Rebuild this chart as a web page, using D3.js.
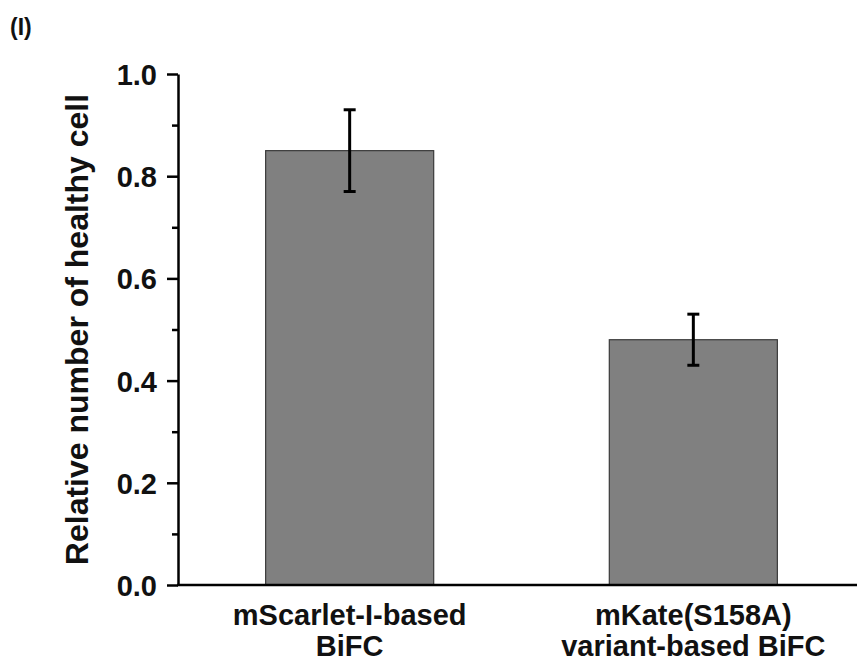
<!DOCTYPE html>
<head>
    <meta charset="utf-8">
    <script src="https://d3js.org/d3.v7.min.js"></script>
    <style>
        body { margin:0; background: white; }
        text { font-family: 'Liberation Sans', Arial, sans-serif; font-weight: bold; fill: #111; }
        .bar { fill: #808080; stroke: #3a3a3a; stroke-width: 1.2; }
        .err { stroke: black; stroke-width: 3; fill: none; }
        .axis path, .axis line { stroke: black; stroke-width: 2.5; }
        .axis text { font-size: 29px; }
        .cat-label { font-size: 29px; }
        .y-title { font-size: 32px; }
        .panel { font-size: 23px; }
    </style>
</head>
<body>
  <script>
    // chart values
    const categories = ['mScarlet-I-based\nBiFC', 'mKate(S158A)\nvariant-based BiFC'];
    const means = [0.85, 0.48];
    const errLow = [0.77, 0.43];
    const errHigh = [0.93, 0.53];
    const yTicks = [0, 0.2, 0.4, 0.6, 0.8, 1.0];
    const yMinorTicks = [0.1, 0.3, 0.5, 0.7, 0.9];

    const width = 857;
    const height = 661;
    const margins = {top: 74, left: 178, bottom: 76};
    const plotBottom = height - margins.bottom;

    const svg = d3.select('body').append('svg')
        .attr('width', width)
        .attr('height', height);

    const data = categories.map((c, i) => ({
        name: c, mean: means[i], lo: errLow[i], hi: errHigh[i]
    }));

    const xScale = d3.scaleBand()
        .domain(categories)
        .range([margins.left, 865])
        .paddingInner(0.511)
        .paddingOuter(0.255);

    const yScale = d3.scaleLinear()
        .domain([0, 1])
        .range([plotBottom, margins.top]);

    // bars
    svg.append('g').selectAll('rect')
        .data(data)
        .enter().append('rect')
        .attr('class', 'bar')
        .attr('x', d => xScale(d.name))
        .attr('width', xScale.bandwidth())
        .attr('y', d => yScale(d.mean))
        .attr('height', d => yScale(0) - yScale(d.mean));

    // error bars
    const cap = 6;
    const errs = svg.append('g').selectAll('g')
        .data(data)
        .enter().append('g');

    errs.append('line')
        .attr('class', 'err')
        .attr('x1', d => xScale(d.name) + xScale.bandwidth() / 2)
        .attr('x2', d => xScale(d.name) + xScale.bandwidth() / 2)
        .attr('y1', d => yScale(d.lo))
        .attr('y2', d => yScale(d.hi));

    ['lo', 'hi'].forEach(k => {
        errs.append('line')
            .attr('class', 'err')
            .attr('x1', d => xScale(d.name) + xScale.bandwidth() / 2 - cap)
            .attr('x2', d => xScale(d.name) + xScale.bandwidth() / 2 + cap)
            .attr('y1', d => yScale(d[k]))
            .attr('y2', d => yScale(d[k]));
    });

    // y axis, major and minor ticks
    svg.append('g')
        .attr('class', 'axis y')
        .attr('transform', `translate(${margins.left},0)`)
        .call(d3.axisLeft(yScale).tickValues(yMinorTicks).tickSize(6).tickFormat(''))
        .call(g => g.select('.domain').remove());

    const yAxis = svg.append('g')
        .attr('class', 'axis y')
        .attr('transform', `translate(${margins.left},0)`)
        .call(d3.axisLeft(yScale).tickValues(yTicks).tickSize(11).tickSizeOuter(0).tickPadding(10)
            .tickFormat(d3.format('.1f')));
    yAxis.selectAll('text').attr('dy', '0.36em');

    // x axis line
    svg.append('line')
        .attr('class', 'axis-x')
        .attr('x1', margins.left - 1)
        .attr('x2', width)
        .attr('y1', yScale(0))
        .attr('y2', yScale(0))
        .attr('stroke', 'black')
        .attr('stroke-width', 2.5);

    // category labels
    const labels = svg.append('g').selectAll('text')
        .data(data)
        .enter().append('text')
        .attr('class', 'cat-label')
        .attr('text-anchor', 'middle')
        .attr('x', d => xScale(d.name) + xScale.bandwidth() / 2)
        .attr('y', 625);

    labels.selectAll('tspan')
        .data(d => d.name.split('\n'))
        .enter().append('tspan')
        .attr('x', function() { return this.parentNode.getAttribute('x'); })
        .attr('dy', (d, i) => i === 0 ? 0 : 31)
        .text(d => d);

    // y axis title
    svg.append('text')
        .attr('class', 'y-title')
        .attr('text-anchor', 'middle')
        .attr('transform', `translate(88,${(yScale(0) + yScale(1)) / 2}) rotate(-90)`)
        .text('Relative number of healthy cell');

    // panel letter
    svg.append('text')
        .attr('class', 'panel')
        .attr('x', 10)
        .attr('y', 35)
        .text('(I)');
  </script>
</body>
